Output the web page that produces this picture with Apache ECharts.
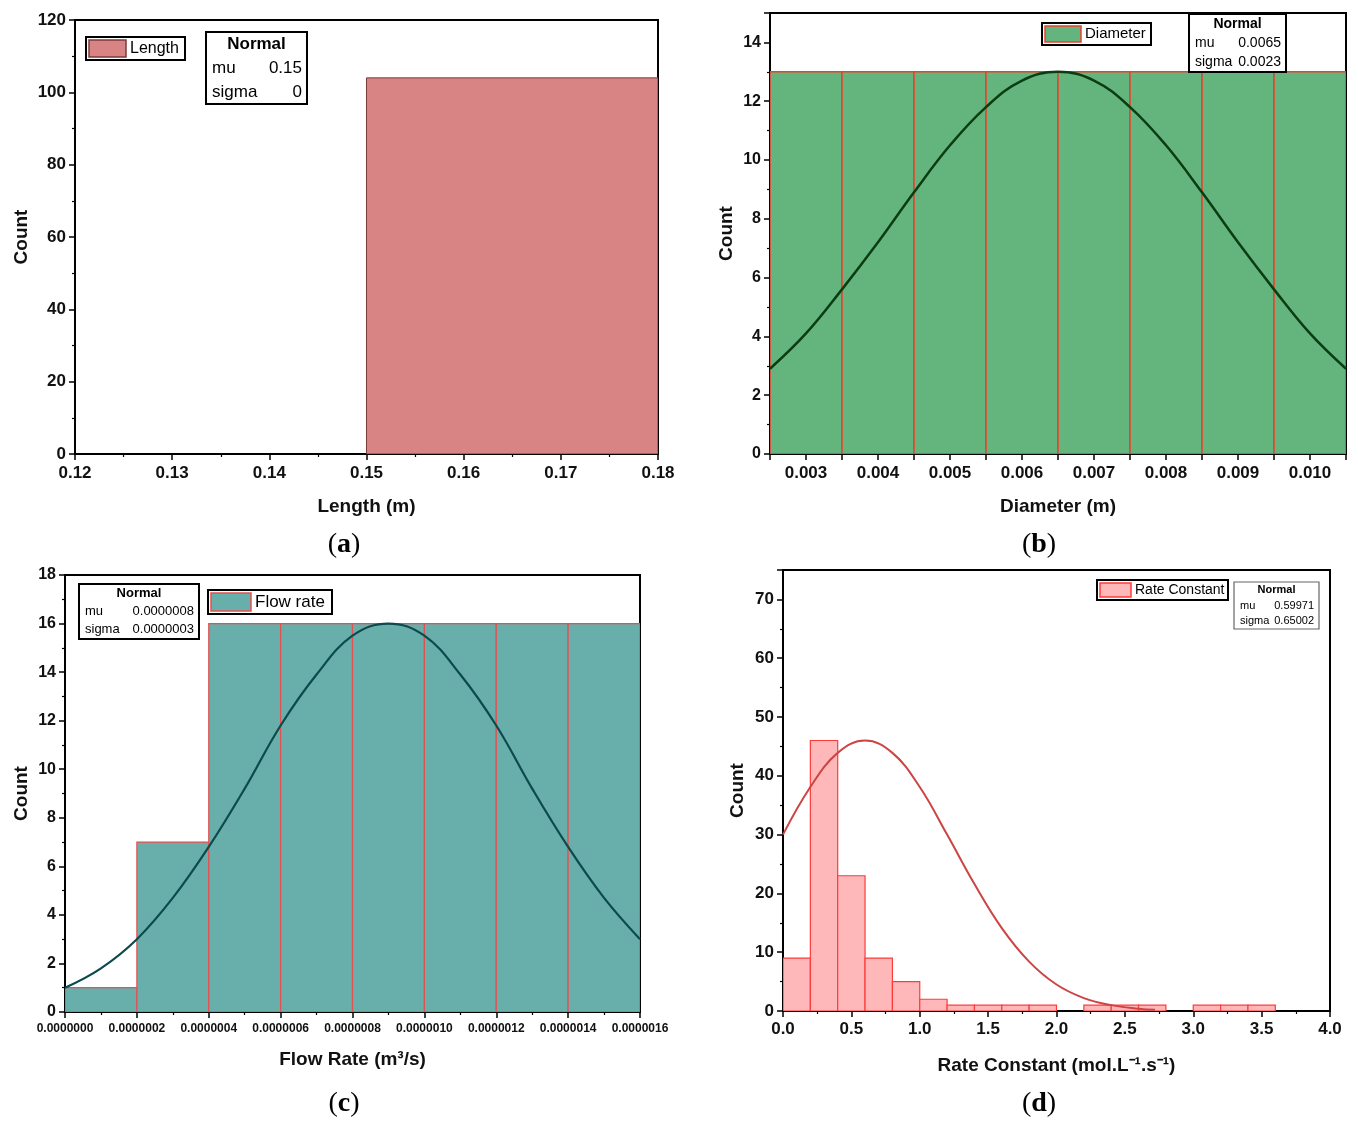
<!DOCTYPE html>
<html><head><meta charset="utf-8">
<script src="https://cdn.jsdelivr.net/npm/echarts@6/dist/echarts.min.js"></script>
<style>html,body{margin:0;padding:0;background:#fff}#c{width:1358px;height:1127px}</style>
</head><body><div id="c"></div>
<script>
// ---- Panel (a) Length ----
const lengthEdges = [0.15, 0.18];
const lengthCounts = [104];

// ---- Panel (b) Diameter ----
const diameterEdges = [0.0025, 0.0035, 0.0045, 0.0055, 0.0065, 0.0075, 0.0085, 0.0095, 0.0105];
const diameterCounts = [13, 13, 13, 13, 13, 13, 13, 13];
const diameterCurveX = [0.0025, 0.003, 0.0035, 0.004, 0.0045, 0.005, 0.0055, 0.006, 0.0065, 0.007, 0.0075, 0.008, 0.0085, 0.009, 0.0095, 0.010, 0.0105];
const diameterCurveY = [2.9, 4.1, 5.6, 7.2, 8.9, 10.5, 11.8, 12.7, 13.0, 12.7, 11.8, 10.5, 8.9, 7.2, 5.6, 4.1, 2.9];

// ---- Panel (c) Flow rate ----
const flowEdges = [0, 2e-7, 4e-7, 6e-7, 8e-7, 10e-7, 12e-7, 14e-7, 16e-7];
const flowCounts = [1, 7, 16, 16, 16, 16, 16, 16];
const flowCurveX = [0, 1e-7, 2e-7, 3e-7, 4e-7, 5e-7, 6e-7, 7e-7, 8e-7, 9e-7, 10e-7, 11e-7, 12e-7, 13e-7, 14e-7, 15e-7, 16e-7];
const flowCurveY = [1.0, 1.8, 3.0, 4.7, 6.8, 9.2, 11.8, 13.9, 15.5, 16.0, 15.5, 13.9, 11.8, 9.2, 6.8, 4.7, 3.0];

// ---- Panel (d) Rate constant ----
const rateEdges = [0, 0.2, 0.4, 0.6, 0.8, 1.0, 1.2, 1.4, 1.6, 1.8, 2.0, 2.2, 2.4, 2.6, 2.8, 3.0, 3.2, 3.4, 3.6];
const rateCounts = [9, 46, 23, 9, 5, 2, 1, 1, 1, 1, 0, 1, 1, 1, 0, 1, 1, 1];
const rateCurveX = [0, 0.2, 0.4, 0.6, 0.8, 1.0, 1.2, 1.4, 1.6, 1.8, 2.0, 2.2, 2.4, 2.6, 2.72];
const rateCurveY = [30.0, 38.1, 43.9, 46.0, 43.9, 38.1, 30.0, 21.6, 14.1, 8.4, 4.5, 2.2, 1.0, 0.4, 0.2];

const FONT = "'Liberation Sans Narrow', 'Liberation Sans', Arial, sans-serif";
const SANS = "'Liberation Sans', Arial, sans-serif";
const SERIF = "'Liberation Serif', 'Times New Roman', serif";

function binsData(edges, counts) {
  return counts.map((c, i) => [edges[i], edges[i + 1], c]);
}
function curveData(xs, ys) { return xs.map((x, i) => [x, ys[i]]); }

function histSeries(idx, edges, counts, fill, stroke, lw) {
  return {
    type: 'custom', xAxisIndex: idx, yAxisIndex: idx, clip: true,
    encode: { x: [0, 1], y: 2 },
    data: binsData(edges, counts),
    renderItem: function (params, api) {
      const x0 = api.value(0), x1 = api.value(1), y = api.value(2);
      if (!y) return null;
      const p0 = api.coord([x0, y]);
      const p1 = api.coord([x1, 0]);
      return { type: 'rect', shape: { x: p0[0], y: p0[1], width: p1[0] - p0[0], height: p1[1] - p0[1] },
        style: { fill: fill, stroke: stroke, lineWidth: lw } };
    }
  };
}
function curveSeries(idx, xs, ys, color, w) {
  return { type: 'line', xAxisIndex: idx, yAxisIndex: idx, data: curveData(xs, ys), smooth: 0.4,
    showSymbol: false, symbol: 'none', lineStyle: { color: color, width: w }, z: 5, silent: true };
}

const axisLineStyle = { show: true, lineStyle: { color: '#000', width: 2 } };
const tickStyle = { show: true, inside: false, length: 6, lineStyle: { color: '#000', width: 1.5 } };
const minorStyle = { show: true, splitNumber: 2, length: 3, lineStyle: { color: '#000', width: 1.2 } };

function xAxis(idx, min, max, interval, name, fontSize, fmt, nameGap, minorOn, margin) {
  return { type: 'value', gridIndex: idx, min: min, max: max, interval: interval,
    name: name, nameLocation: 'middle', nameGap: nameGap,
    nameTextStyle: { fontFamily: FONT, fontWeight: 'bold', fontSize: 19, color: '#111' },
    axisLine: axisLineStyle, axisTick: tickStyle,
    minorTick: minorOn ? minorStyle : { show: false },
    splitLine: { show: false },
    axisLabel: { fontFamily: FONT, fontWeight: 'bold', fontSize: fontSize, color: '#111', margin: margin, formatter: fmt,
      showMinLabel: true, showMaxLabel: true } };
}
function yAxis(idx, min, max, interval, fontSize, nameGap, hideMax) {
  return { type: 'value', gridIndex: idx, min: min, max: max, interval: interval,
    name: 'Count', nameLocation: 'middle', nameGap: nameGap,
    nameTextStyle: { fontFamily: FONT, fontWeight: 'bold', fontSize: 19, color: '#111' },
    axisLine: axisLineStyle, axisTick: tickStyle, minorTick: minorStyle,
    splitLine: { show: false },
    axisLabel: { fontFamily: FONT, fontWeight: 'bold', fontSize: fontSize, color: '#111', margin: 9,
      showMaxLabel: !hideMax } };
}

function legendBox(x, y, w, h, swW, fill, stroke, label, fs) {
  return [
    { type: 'rect', shape: { x: x, y: y, width: w, height: h }, style: { fill: '#fff', stroke: '#000', lineWidth: 2 }, z: 20 },
    { type: 'rect', shape: { x: x + 3, y: y + 3, width: swW, height: h - 6 }, style: { fill: fill, stroke: stroke, lineWidth: 1.5 }, z: 21 },
    { type: 'text', x: x + swW + 7, y: y + h / 2, style: { text: label, fontFamily: SANS, fontSize: fs, fill: '#000', verticalAlign: 'middle' }, z: 21 }
  ];
}
function normalBox(x, y, w, h, rows, fs, borderColor, bw) {
  const rh = h / 3;
  const els = [
    { type: 'rect', shape: { x: x, y: y, width: w, height: h }, style: { fill: '#fff', stroke: borderColor, lineWidth: bw }, z: 20 },
    { type: 'text', x: x + w / 2, y: y + rh * 0.5, style: { text: 'Normal', fontFamily: SANS, fontWeight: 'bold', fontSize: fs, fill: '#000', align: 'center', verticalAlign: 'middle' }, z: 21 }
  ];
  rows.forEach((r, i) => {
    const cy = y + rh * (i + 1.5);
    els.push({ type: 'text', x: x + 6, y: cy, style: { text: r[0], fontFamily: SANS, fontSize: fs, fill: '#000', align: 'left', verticalAlign: 'middle' }, z: 21 });
    els.push({ type: 'text', x: x + w - 5, y: cy, style: { text: r[1], fontFamily: SANS, fontSize: fs, fill: '#000', align: 'right', verticalAlign: 'middle' }, z: 21 });
  });
  return els;
}
function caption(cx, cy, letter) {
  return { type: 'text', x: cx, y: cy, style: { text: '{n|(}{b|' + letter + '}{n|)}', align: 'center', verticalAlign: 'middle',
    rich: { n: { fontFamily: SERIF, fontSize: 28, fill: '#000' }, b: { fontFamily: SERIF, fontSize: 28, fontWeight: 'bold', fill: '#000' } } } };
}

const grids = [
  { left: 75, top: 20, width: 583, height: 434 },
  { left: 770, top: 13, width: 576, height: 441 },
  { left: 65, top: 575, width: 575, height: 437 },
  { left: 783, top: 570, width: 547, height: 441 }
].map(g => Object.assign({ show: true, borderColor: '#000', borderWidth: 2, backgroundColor: 'transparent', containLabel: false }, g));

const option = {
  backgroundColor: '#fff',
  animation: false,
  grid: grids,
  xAxis: [
    xAxis(0, 0.12, 0.18, 0.01, 'Length (m)', 17, v => v.toFixed(2), 43, true, 11),
    xAxis(1, 0.0025, 0.0105, 0.0005, 'Diameter (m)', 17,
      v => (Math.abs(v * 1000 - Math.round(v * 1000)) < 1e-6 ? v.toFixed(3) : ''), 43, false, 11),
    xAxis(2, 0, 1.6e-6, 2e-7, 'Flow Rate (m³/s)', 12, v => v.toFixed(7), 38, true, 11),
    xAxis(3, 0, 4, 0.5, 'Rate Constant (mol.L⁻¹.s⁻¹)', 17, v => v.toFixed(1), 45, true, 10)
  ],
  yAxis: [
    yAxis(0, 0, 120, 20, 17, 44, false),
    yAxis(1, 0, 15, 2, 16, 34, true),
    yAxis(2, 0, 18, 2, 16, 34, false),
    yAxis(3, 0, 75, 10, 17, 36, true)
  ],
  series: [
    histSeries(0, lengthEdges, lengthCounts, '#d88384', '#7a3b3b', 1),
    histSeries(1, diameterEdges, diameterCounts, '#64b47d', '#e8412f', 1.5),
    curveSeries(1, diameterCurveX, diameterCurveY, '#0b3d12', 2.5),
    histSeries(2, flowEdges, flowCounts, '#68aeab', '#e35050', 1.2),
    curveSeries(2, flowCurveX, flowCurveY, '#0c4a4d', 2.2),
    histSeries(3, rateEdges, rateCounts, '#ffb8ba', '#ff3b3b', 1.2),
    curveSeries(3, rateCurveX, rateCurveY, '#cc4444', 2)
  ],
  graphic: [].concat(
    legendBox(86, 37, 99, 23, 37, '#d88384', '#7a3b3b', 'Length', 16),
    normalBox(206, 32, 101, 72, [['mu', '0.15'], ['sigma', '0']], 17, '#000', 2),
    legendBox(1042, 23, 109, 22, 36, '#64b47d', '#e8412f', 'Diameter', 15),
    normalBox(1189, 14, 97, 58, [['mu', '0.0065'], ['sigma', '0.0023']], 14, '#000', 2),
    normalBox(79, 584, 120, 55, [['mu', '0.0000008'], ['sigma', '0.0000003']], 13, '#000', 2),
    legendBox(208, 590, 124, 24, 40, '#68aeab', '#e35050', 'Flow rate', 17),
    legendBox(1097, 580, 131, 20, 31, '#ffb8ba', '#ff3b3b', 'Rate Constant', 14),
    normalBox(1234, 582, 85, 47, [['mu', '0.59971'], ['sigma', '0.65002']], 11, '#666', 1.2),
    [caption(344, 545, 'a'), caption(1039, 545, 'b'), caption(344, 1104, 'c'), caption(1039, 1104, 'd')]
  )
};

const chart = echarts.init(document.getElementById('c'));
chart.setOption(option);
</script>
</body></html>
